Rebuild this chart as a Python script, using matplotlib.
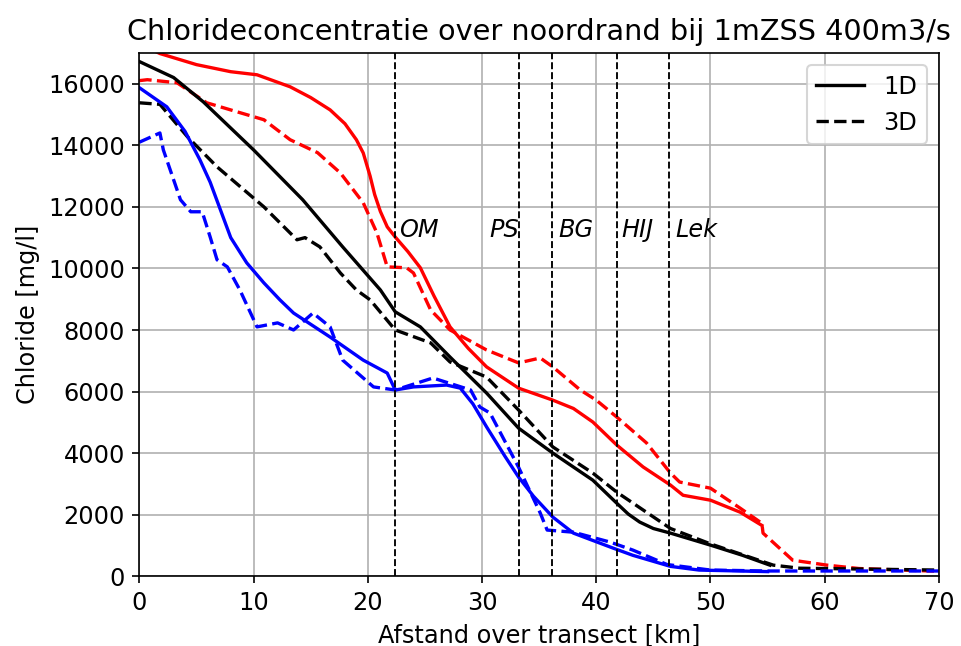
import matplotlib
matplotlib.use("Agg")
import matplotlib.pyplot as plt

plt.rcParams['font.size'] = 11.5
plt.rcParams['lines.linewidth'] = 1.6

# 1D model (solid)
x_red_1d = [0, 1.8, 5, 8, 10.3, 13.2, 15, 16.7, 18, 19, 19.6, 20.2, 20.6, 21.1, 21.7, 22.4,
            23.5, 24.6, 25.8, 27.2, 28.8, 30.4, 33.2, 36.2, 38, 39.7, 41.8, 44.1, 46.5,
            47.6, 50, 52.6, 54.5]
y_red_1d = [17300, 16980, 16620, 16390, 16290, 15900, 15550, 15150, 14700, 14180, 13750,
            13000, 12400, 11850, 11350, 11020, 10550, 10020, 9100, 8100, 7400, 6800, 6110,
            5720, 5450, 5010, 4260, 3550, 2960, 2630, 2470, 2080, 1650]

x_black_1d = [0, 3, 5.6, 10, 14.3, 17.8, 21.1, 22.4, 24.6, 27.2, 30.4, 33.2, 36.2, 39.7,
              41.8, 42.8, 43.8, 45, 46.5, 50, 52.8, 55.2]
y_black_1d = [16720, 16200, 15410, 13850, 12230, 10700, 9300, 8590, 8100, 7120, 5950, 4810,
              4000, 3120, 2370, 2020, 1760, 1550, 1400, 1010, 680, 360]

x_blue_1d = [0, 2.4, 4, 5.3, 6.2, 7.1, 8, 9.4, 10.9, 12.3, 13.5, 16.7, 19.6, 21.7, 22.4, 24,
             26.9, 28.1, 29.2, 30.4, 32, 33.2, 34.5, 36.2, 38, 41.5, 43.2, 46.5, 49, 55]
y_blue_1d = [15870, 15250, 14450, 13530, 12800, 11900, 11000, 10180, 9530, 8980, 8550,
             7770, 7020, 6600, 6050, 6150, 6210, 6110, 5600, 4850, 3900, 3220, 2600, 1920,
             1400, 910, 680, 320, 200, 150]

# 3D model (dashed)
x_red_3d = [0, 0.7, 3.3, 5.9, 8.8, 10.9, 13.2, 15.6, 17.6, 19.6, 20.8, 21.7, 23.4, 24, 25.5,
            27.2, 30.4, 33.2, 35.1, 36.2, 38.6, 40, 41.8, 44.4, 46.5, 47.3, 50, 52.6, 54.5,
            54.6, 57.2, 60.2, 63, 70]
y_red_3d = [16100, 16130, 16030, 15380, 15060, 14830, 14180, 13760, 13100, 12130, 11150,
            10050, 10020, 9850, 8650, 8000, 7350, 6930, 7090, 6800, 6050, 5720, 5170, 4330,
            3350, 3060, 2860, 2210, 1720, 1400, 520, 360, 250, 160]

x_black_3d = [0, 1.8, 4.2, 6.8, 10.9, 13.8, 14.5, 15.8, 17.6, 19, 20.2, 22.4, 25.5, 27.2,
              30.4, 33.2, 36.2, 39.7, 41.8, 46.5, 50, 52.8, 55.5, 57.8, 70]
y_black_3d = [15380, 15330, 14280, 13300, 12000, 10930, 11000, 10700, 9850, 9300, 8980,
              8000, 7580, 6960, 6470, 5400, 4200, 3350, 2730, 1550, 1050, 700, 360, 260, 200]

x_blue_3d = [0, 1.8, 2.1, 3.6, 4.5, 5.5, 6.2, 6.8, 7.7, 8.8, 10.3, 12.1, 13.5, 15.2, 16.7,
             17.8, 20.5, 22.4, 25.7, 29, 29.8, 30.7, 33.2, 35.1, 35.7, 38, 41.2, 43.2, 46.2,
             50, 55, 70]
y_blue_3d = [14100, 14400, 13850, 12230, 11840, 11840, 11020, 10280, 10050, 9300, 8100,
             8230, 8000, 8550, 8100, 7020, 6150, 6050, 6440, 6050, 5500, 5300, 3540, 2050,
             1500, 1430, 1110, 850, 380, 200, 170, 170]

# locations along the transect
loc_names = ["OM", "PS", "BG", "HIJ", "Lek"]
loc_km = [22.4, 33.2, 36.1, 41.8, 46.4]
label_x = [22.7, 30.6, 36.7, 42.2, 46.9]

fig = plt.figure(figsize=(6.407, 4.307), dpi=150)
ax = fig.add_subplot(111)
fig.subplots_adjust(left=0.145, right=0.977, bottom=0.108, top=0.918)

ax.plot(x_red_1d, y_red_1d, 'r-')
ax.plot(x_red_3d, y_red_3d, 'r--')
ax.plot(x_black_1d, y_black_1d, 'k-', label='1D')
ax.plot(x_black_3d, y_black_3d, 'k--', label='3D')
ax.plot(x_blue_1d, y_blue_1d, 'b-')
ax.plot(x_blue_3d, y_blue_3d, 'b--')

for name, km, lx in zip(loc_names, loc_km, label_x):
    ax.axvline(km, color='k', ls='--', lw=0.9)
    ax.text(lx, 11250, name, style='italic', va='center', ha='left')

ax.set_xlim(0, 70)
ax.set_ylim(0, 17000)
ax.grid(True)
ax.legend(loc='upper right')
ax.set_xlabel('Afstand over transect [km]')
ax.set_ylabel('Chloride [mg/l]')
ax.set_title('Chlorideconcentratie over noordrand bij 1mZSS 400m3/s', fontsize=13.8)

fig.savefig('out.png', dpi=150)
